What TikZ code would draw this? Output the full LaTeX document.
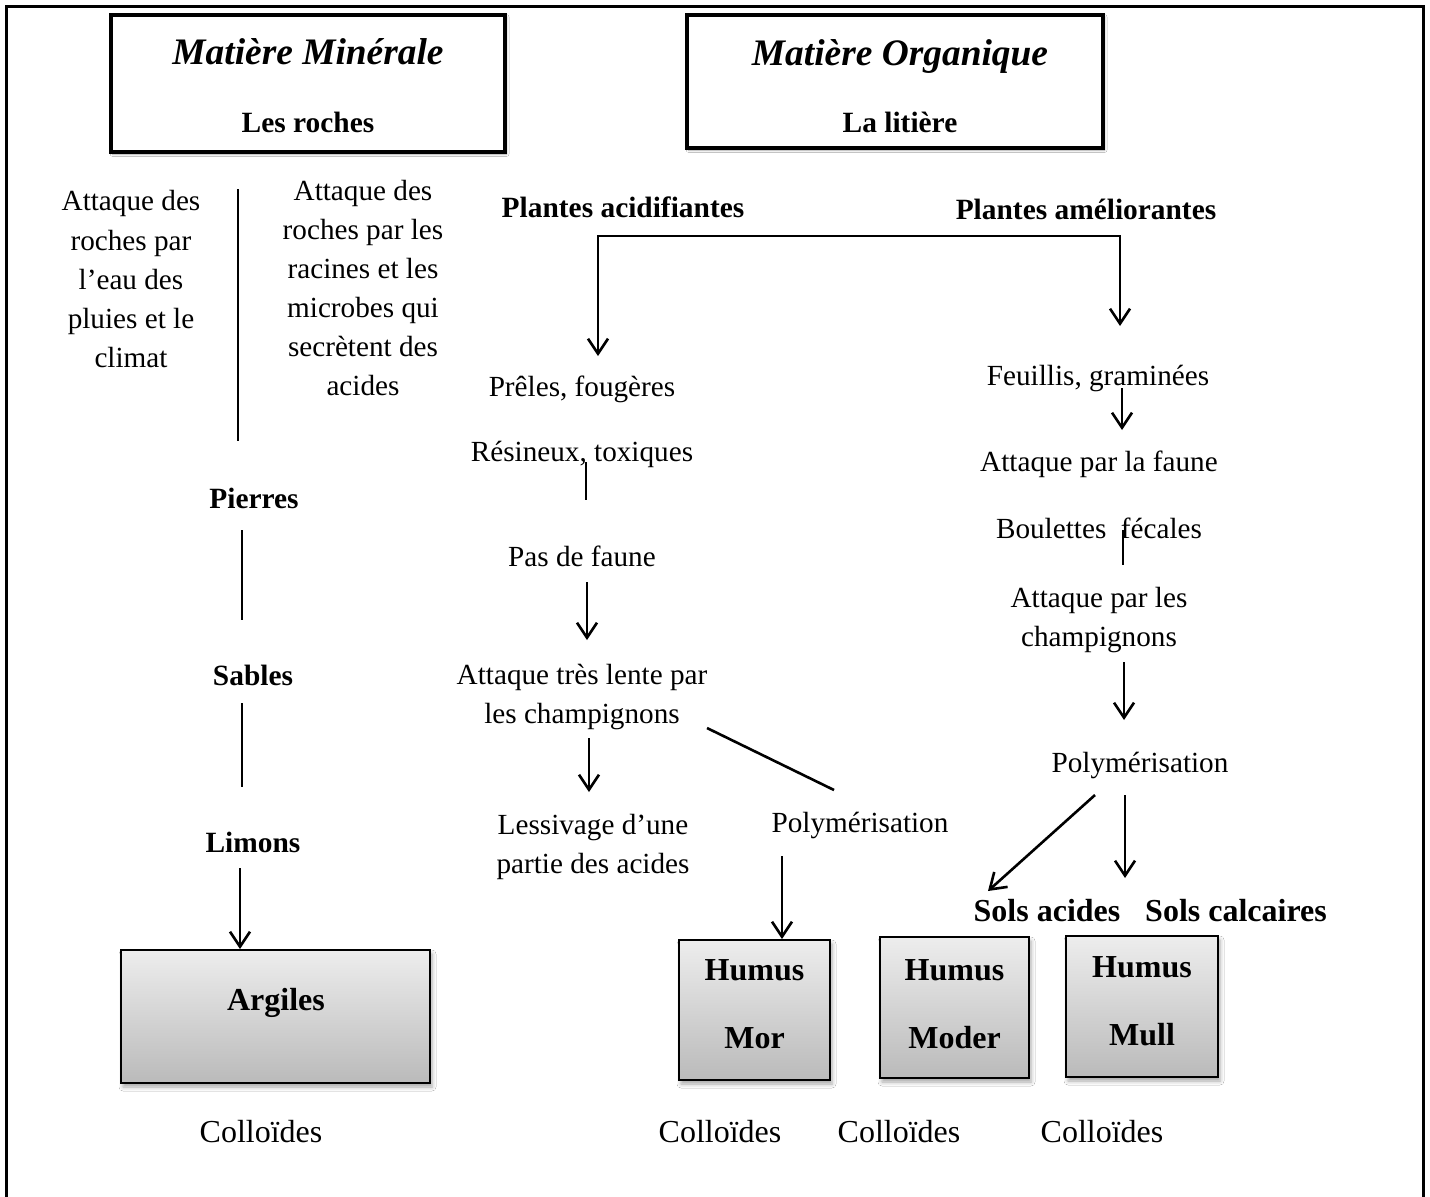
\documentclass[tikz,border=0pt]{standalone}
\usepackage{fontspec}
\setmainfont{Liberation Serif}
\usetikzlibrary{arrows.meta,shadows.blur}
\begin{document}
\begin{tikzpicture}[x=0.5pt,y=-0.5pt,
  txt/.style={font=\fontsize{14.6}{19.5}\selectfont, align=center, inner sep=0pt},
  bigtxt/.style={font=\fontsize{16}{19.5}\selectfont, align=center, inner sep=0pt},
  btxt/.style={font=\fontsize{14.7}{19.5}\selectfont\bfseries, align=center, inner sep=0pt},
  bbig/.style={font=\fontsize{16}{19.5}\selectfont\bfseries, align=center, inner sep=0pt},
  ttl/.style={inner sep=0pt, font=\fontsize{18.7}{22}\selectfont\bfseries\itshape},
  ln/.style={line width=1.3pt},
  arr/.style={line width=1.3pt, -{Straight Barb[length=7.5pt,width=10pt,line width=1.3pt]}},
  titlebox/.style={draw, line width=2pt, fill=white, inner sep=0pt,
    blur shadow={shadow xshift=0.8pt, shadow yshift=-1pt, shadow blur radius=1.2pt, shadow opacity=35}},
  humbox/.style={draw, line width=1pt, top color=black!7, bottom color=black!27, inner sep=0pt,
    align=center, font=\fontsize{16}{19.5}\selectfont\bfseries,
    blur shadow={shadow xshift=1pt, shadow yshift=-2pt, shadow blur radius=2pt, shadow opacity=35}}]

\fill[white] (0,0) rectangle (1430,1196);
\useasboundingbox (0,0) rectangle (1430,1196);

% outer frame
\coordinate (fbl) at (6,1200);
\coordinate (ftl) at (6,6);
\coordinate (ftr) at (1423,6);
\coordinate (fbr) at (1423,1200);
\draw[line width=1.5pt] (fbl) -- (ftl) -- (ftr) -- (fbr);

% title boxes
\node[titlebox, minimum width=197pt, minimum height=68.5pt] (minbox) at (308,83.5) {};
\node[ttl] (mintitle) at (308,52) {Matière Minérale};
\node[btxt] (roches) at (308,122) {Les roches};

\node[titlebox, minimum width=208pt, minimum height=66.5pt] (orgbox) at (895,81.5) {};
\node[ttl] (orgtitle) at (900,56) {Matière Organique};
\node[btxt] (litiere) at (900,122) {La litière};

% left column
\node[txt] (eau) at (131,279) {Attaque des\\roches par\\l’eau des\\pluies et le\\climat};
\node[txt] (racines) at (363,287.5) {Attaque des\\roches par les\\racines et les\\microbes qui\\secrètent des\\acides};
\coordinate (l1a) at (238,189);
\coordinate (l1b) at (238,441);
\draw[ln] (l1a) -- (l1b);

\node[btxt] (pierres) at (254,498) {Pierres};
\coordinate (l2a) at (242,530);
\coordinate (l2b) at (242,620);
\draw[ln] (l2a) -- (l2b);

\node[btxt] (sables) at (253,675) {Sables};
\coordinate (l3a) at (242,703);
\coordinate (l3b) at (242,787);
\draw[ln] (l3a) -- (l3b);

\node[btxt] (limons) at (253,842) {Limons};
\node[humbox, minimum width=154.5pt, minimum height=66.5pt] (argbox) at (275.5,1016.5) {};
\node[bbig] (argiles) at (276,1003) {Argiles};
\coordinate (l4a) at (240,868);
\draw[arr] (l4a) -- (l4a |- argbox.north);
\node[bigtxt] (coll1) at (261,1132) {Colloïdes};

% middle column
\node[btxt] (acid) at (623,207) {Plantes acidifiantes};
\node[btxt] (amel) at (1086,209) {Plantes améliorantes};
\coordinate (hL) at (598,236);
\coordinate (hR) at (1120,236);
\coordinate (hLend) at (598,356);
\coordinate (hRend) at (1120,326);
\draw[arr] (hR) -- (hL) -- (hLend);
\draw[arr] (hL) -- (hR) -- (hRend);

\node[txt] (preles) at (582,389) {Prêles, fougères};
\node[txt] (resineux) at (582,454) {Résineux, toxiques};
\coordinate (m1a) at (586,462);
\coordinate (m1b) at (586,500);
\draw[ln] (m1a) -- (m1b);
\node[txt] (pasfaune) at (582,556) {Pas de faune};
\coordinate (m2a) at (587,582);
\coordinate (m2b) at (587,640);
\draw[arr] (m2a) -- (m2b);
\node[txt] (lente) at (582,696.5) {Attaque très lente par\\les champignons};
\coordinate (m3a) at (589,738);
\coordinate (m3b) at (589,792);
\draw[arr] (m3a) -- (m3b);
\coordinate (d1a) at (707,728);
\coordinate (d1b) at (834,790);
\draw[ln] (d1a) -- (d1b);
\node[txt] (lessiv) at (593,846.5) {Lessivage d’une\\partie des acides};
\node[txt] (poly1) at (860,825) {Polymérisation};
\node[humbox, minimum width=75.5pt, minimum height=70pt, text depth=6pt] (mor) at (754.5,1010) {Humus\\[14.5pt]Mor};
\coordinate (m4a) at (782,856);
\draw[arr] (m4a) -- (m4a |- mor.north);
\node[humbox, minimum width=74.5pt, minimum height=70.5pt, text depth=3pt] (moder) at (954.5,1007.5) {Humus\\[14.5pt]Moder};
\node[humbox, minimum width=76pt, minimum height=70.5pt, text depth=5pt] (mull) at (1142,1006.5) {Humus\\[14.5pt]Mull};
\node[bigtxt] (coll2) at (720,1132) {Colloïdes};
\node[bigtxt] (coll3) at (899,1132) {Colloïdes};
\node[bigtxt] (coll4) at (1102,1132) {Colloïdes};

% right column
\node[txt] (feuillis) at (1098,378) {Feuillis, graminées};
\coordinate (r1a) at (1122,388);
\coordinate (r1b) at (1122,430);
\draw[arr] (r1a) -- (r1b);
\node[txt] (faune) at (1099,464) {Attaque par la faune};
\node[txt] (boulettes) at (1099,528) {Boulettes~ fécales};
\coordinate (r2a) at (1123,530);
\coordinate (r2b) at (1123,565);
\draw[ln] (r2a) -- (r2b);
\node[txt] (champ) at (1099,620.5) {Attaque par les\\champignons};
\coordinate (r3a) at (1124,662);
\coordinate (r3b) at (1124,720);
\draw[arr] (r3a) -- (r3b);
\node[txt] (poly2) at (1140,765) {Polymérisation};
\coordinate (r4a) at (1095,795);
\coordinate (r4b) at (988,891);
\draw[arr] (r4a) -- (r4b);
\coordinate (r5a) at (1125,795);
\coordinate (r5b) at (1125,878);
\draw[arr] (r5a) -- (r5b);
\node[bbig] (solsac) at (1047,911) {Sols acides};
\node[bbig] (solscal) at (1236,911) {Sols calcaires};
\end{tikzpicture}
\end{document}
